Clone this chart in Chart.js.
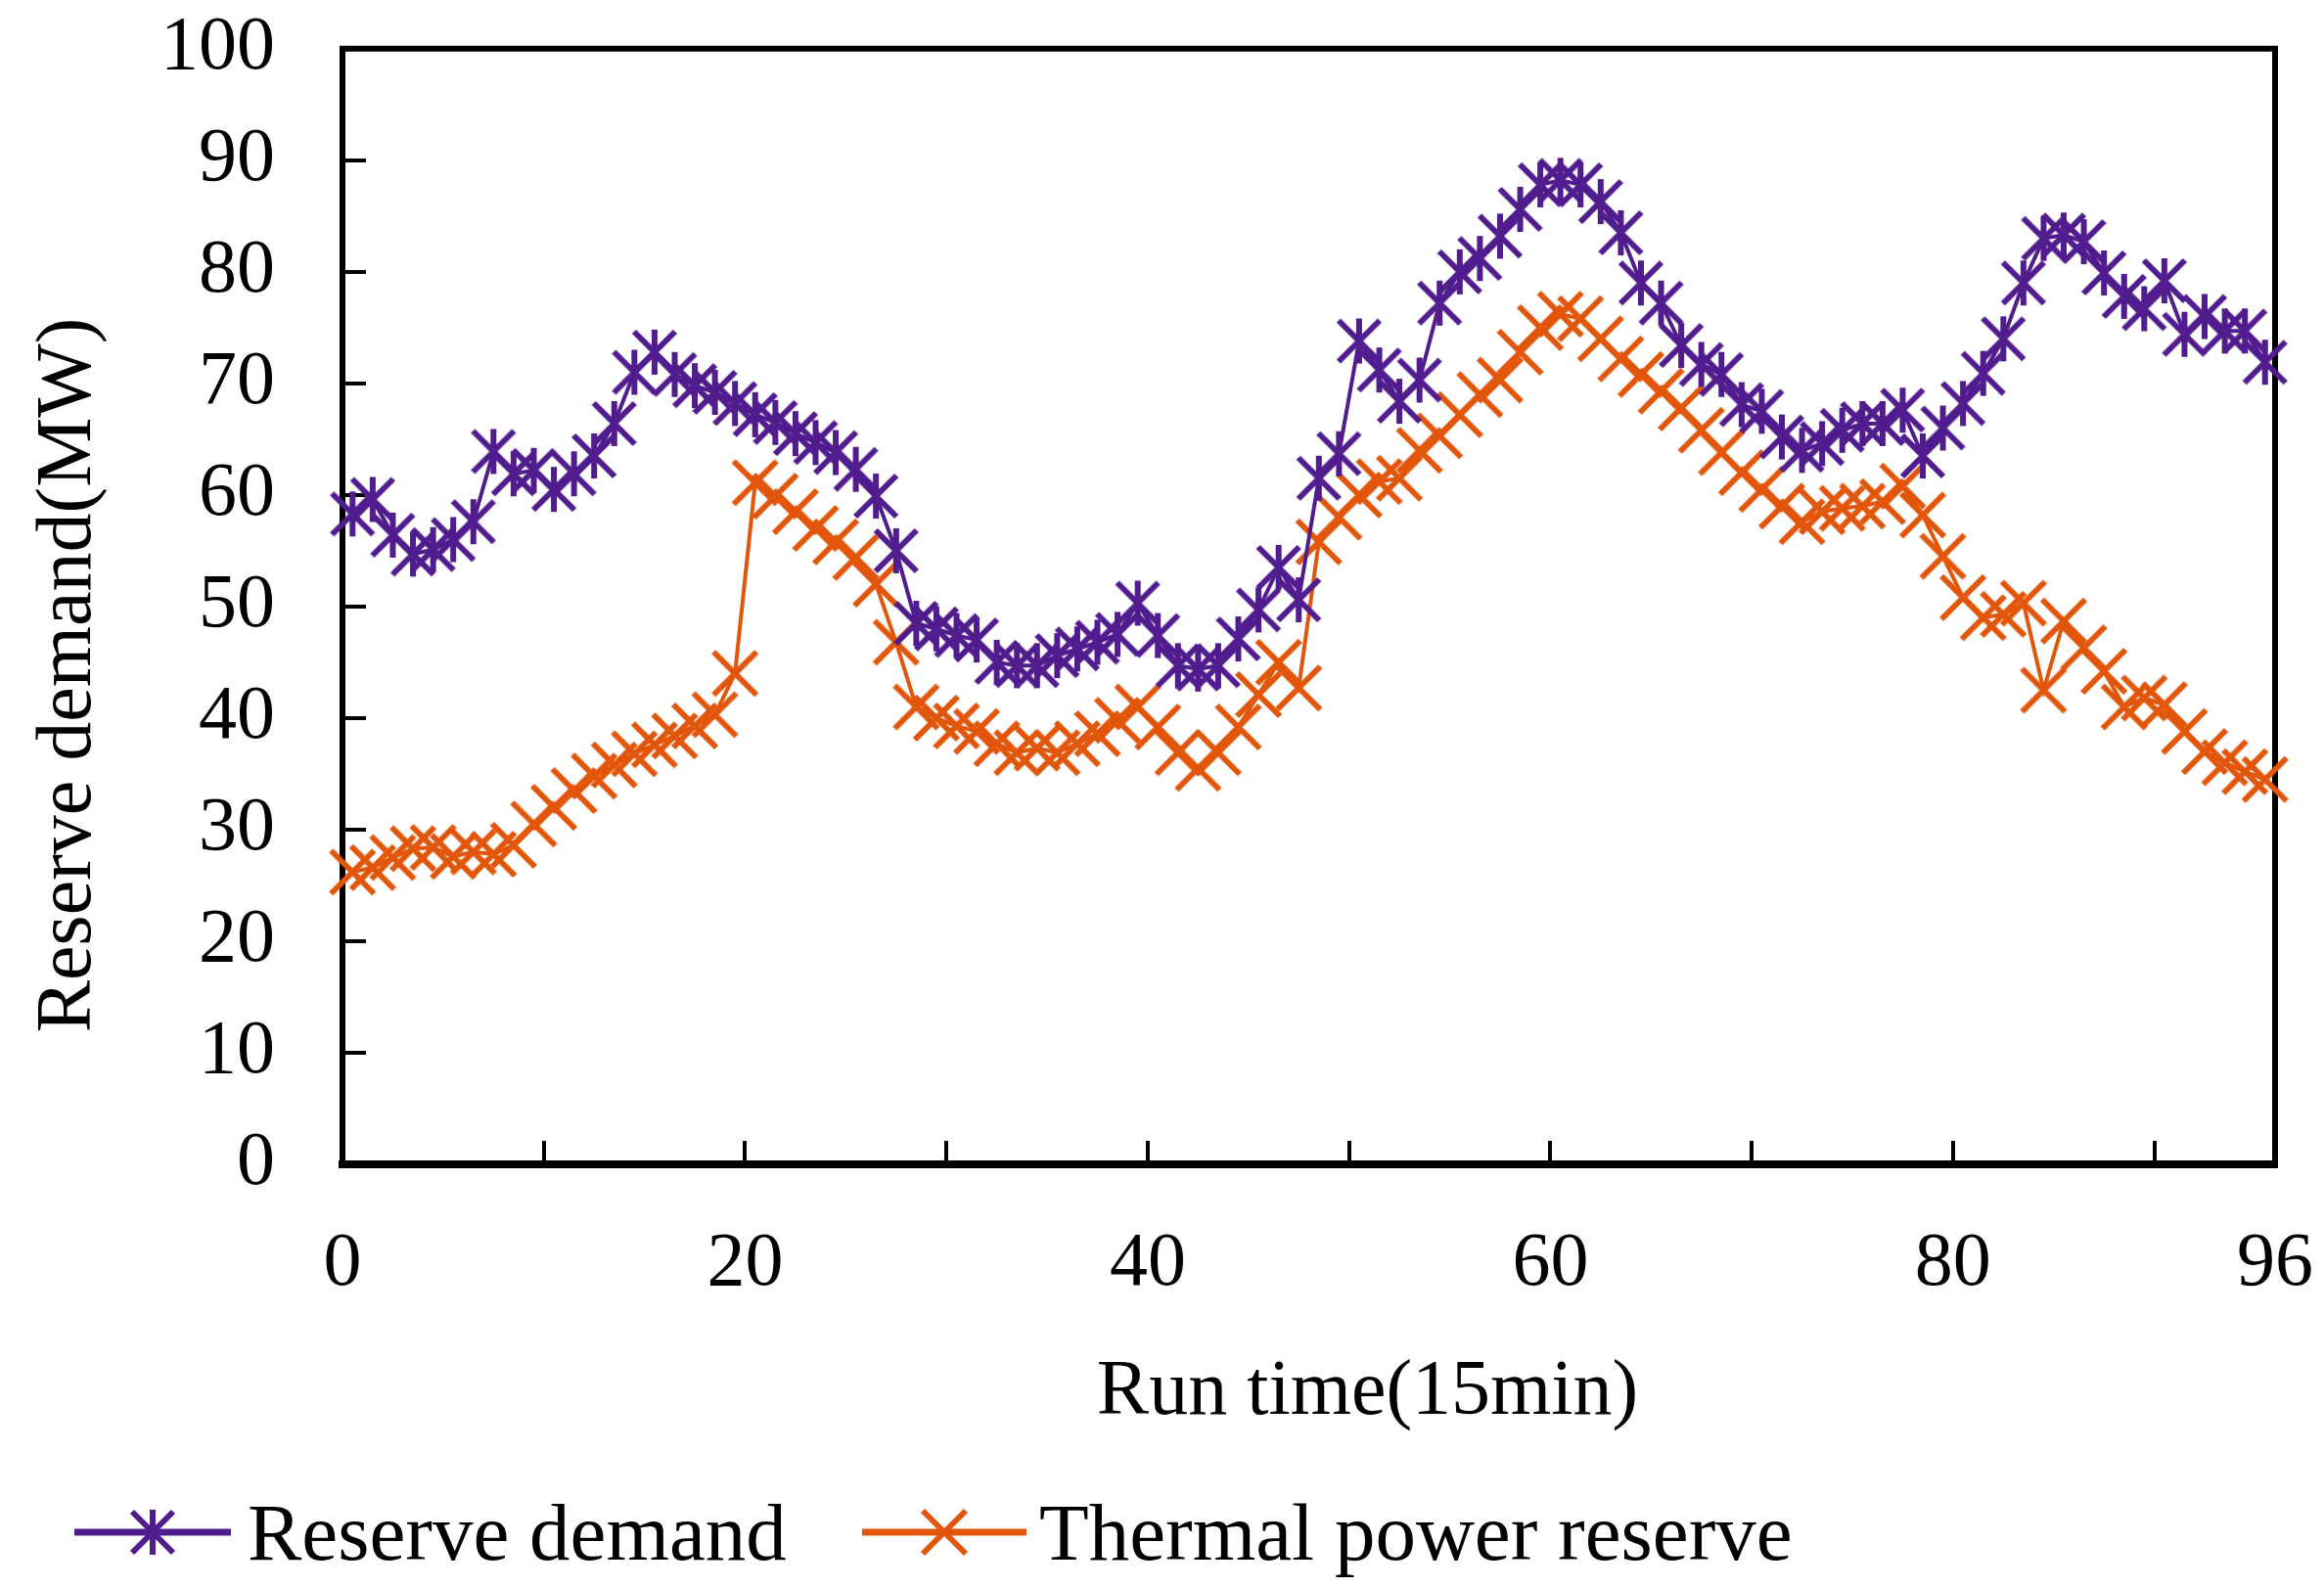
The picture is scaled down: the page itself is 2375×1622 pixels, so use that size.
<!DOCTYPE html>
<html>
<head>
<meta charset="utf-8">
<title>Reserve demand</title>
<script src="https://cdn.jsdelivr.net/npm/chart.js@4.4.0/dist/chart.umd.min.js"></script>
<style>
    html, body { margin: 0; padding: 0; background: #ffffff; }
    #wrap { width: 2375px; height: 1622px; }
</style>
</head>
<body>
<div id="wrap"><canvas id="reserveChart" width="2375" height="1622"></canvas></div>
<script>
// ======================================
// Data
// ======================================
// 96 periods of 15 min; each value is drawn at the middle of its period
const periods = [
    1, 2, 3, 4, 5, 6, 7, 8, 9, 10,
    11, 12, 13, 14, 15, 16, 17, 18, 19, 20,
    21, 22, 23, 24, 25, 26, 27, 28, 29, 30,
    31, 32, 33, 34, 35, 36, 37, 38, 39, 40,
    41, 42, 43, 44, 45, 46, 47, 48, 49, 50,
    51, 52, 53, 54, 55, 56, 57, 58, 59, 60,
    61, 62, 63, 64, 65, 66, 67, 68, 69, 70,
    71, 72, 73, 74, 75, 76, 77, 78, 79, 80,
    81, 82, 83, 84, 85, 86, 87, 88, 89, 90,
    91, 92, 93, 94, 95, 96
];

const reserveDemand = [
    58.3, 59.6, 56.4, 54.7, 55.1, 56, 57.6, 63.9, 61.9, 62.2,
    60.5, 61.9, 63.5, 66.4, 71, 72.8, 70.8, 69.8, 69.2, 68.2,
    67.2, 66.5, 65.5, 64.7, 63.8, 62.3, 59.9, 55, 48.5, 48,
    47.4, 47, 45, 44.7, 44.7, 45.6, 46.2, 46.8, 47.5, 50.3,
    47.4, 44.7, 44.4, 44.7, 47.1, 49.7, 53.5, 50.6, 61.5, 63.7,
    73.8, 71.2, 68.4, 70.3, 77.2, 80, 81.2, 83.2, 85.6, 87.8,
    88.2, 87.8, 86.3, 83.5, 79, 77.2, 73.4, 71.7, 70.8, 68.1,
    67.5, 65.2, 64, 64.6, 65.8, 66.4, 66.4, 67.6, 63.5, 66,
    68.2, 70.9, 74, 79, 83, 83.3, 82.7, 79.9, 77.8, 76.7,
    79.2, 74.4, 76, 74.7, 74.7, 71.9
];

const thermalReserve = [
    26.2, 26.6, 27.5, 28.3, 28.4, 27.6, 28, 27.8, 28.6, 30.5,
    32, 33.5, 34.8, 35.8, 36.8, 37.6, 38.4, 39.3, 40.3, 44,
    61.1, 59.9, 58.5, 57, 55.8, 54.4, 52, 46.8, 41, 40,
    39.3, 38.8, 37.7, 36.9, 37.3, 36.9, 37.7, 38.6, 39.8, 41,
    39.2, 36.9, 35.5, 36.9, 39.2, 42.1, 45, 42.7, 55.8, 58,
    60, 61.2, 61.5, 64, 65.3, 67.2, 69, 70.3, 72.8, 75,
    76.2, 75.8, 74, 72.2, 70.8, 69.3, 67.8, 65.8, 63.8, 62,
    60.5, 59, 57.6, 58.5, 58.8, 59, 59.4, 60.8, 58.2, 54.5,
    50.8, 49, 49.3, 50.3, 42.5, 48.7, 46.3, 44.2, 41, 41.8,
    41.2, 38.8, 37, 36, 35.2, 34.5
];

const seriesNames = ['Reserve demand', 'Thermal power reserve'];
const xTickValues = [0, 10, 20, 30, 40, 50, 60, 70, 80, 90, 96];
const xTickLabels = [0, 20, 40, 60, 80, 96];
const yTickValues = [0, 10, 20, 30, 40, 50, 60, 70, 80, 90, 100];

// ======================================
// Styles
// ======================================
const PURPLE = '#501c8e';
const ORANGE = '#e2560c';
const SERIF = '"Liberation Serif", "Times New Roman", Times, serif';

Chart.defaults.font.family = SERIF;
Chart.defaults.color = '#000000';

// Excel-like markers: star (vertical bar + X) and plain X
function makeMarker(kind, color, r, lw, lineHalf) {
    const halfW = Math.max(r, lineHalf || 0) + lw;
    const halfH = r + lw + 2;
    const c = document.createElement('canvas');
    c.width = Math.ceil(halfW * 2);
    c.height = Math.ceil(halfH * 2);
    const g = c.getContext('2d');
    g.translate(c.width / 2, c.height / 2);
    g.strokeStyle = color;
    g.lineCap = 'butt';
    if (lineHalf) {
        g.lineWidth = 7;
        g.beginPath();
        g.moveTo(-lineHalf, 0);
        g.lineTo(lineHalf, 0);
        g.stroke();
    }
    g.lineWidth = lw;
    g.beginPath();
    g.moveTo(-r, -r); g.lineTo(r, r);
    g.moveTo(-r, r); g.lineTo(r, -r);
    if (kind === 'star') {
        g.moveTo(0, -r - 2); g.lineTo(0, r + 2);
    }
    g.stroke();
    return c;
}

const starMarker = makeMarker('star', PURPLE, 21, 6);
const crossMarker = makeMarker('x', ORANGE, 22, 6);
const legendIcons = [
    makeMarker('star', PURPLE, 21, 6, 80),
    makeMarker('x', ORANGE, 22, 6, 84)
];

function toPoints(values) {
    return periods.map((p, i) => ({ x: p - 0.5, y: values[i] }));
}

// ======================================
// Plugins: frame with inward ticks, bottom legend
// ======================================
const framePlugin = {
    id: 'frameTicks',
    beforeDatasetsDraw(chart) {
        const { ctx, chartArea: a, scales: { x, y } } = chart;
        ctx.save();
        ctx.strokeStyle = '#000000';
        ctx.lineWidth = 6;
        ctx.beginPath();
        ctx.moveTo(a.left - 3, a.top);
        ctx.lineTo(a.right, a.top);
        ctx.lineTo(a.right, a.bottom + 4);
        ctx.stroke();

        ctx.lineWidth = 4;
        ctx.beginPath();
        xTickValues.slice(1, -1).forEach(v => {
            const px = Math.round(x.getPixelForValue(v));
            ctx.moveTo(px, a.bottom);
            ctx.lineTo(px, a.bottom - 24);
        });
        yTickValues.slice(1, -1).forEach(v => {
            const py = Math.round(y.getPixelForValue(v));
            ctx.moveTo(a.left, py);
            ctx.lineTo(a.left + 24, py);
        });
        ctx.stroke();
        ctx.restore();
    }
};

const LEGEND_Y = 1566;
const LEGEND_ITEMS = [
    { iconX: 156, textX: 253 },
    { iconX: 965, textX: 1062 }
];

const legendPlugin = {
    id: 'bottomLegend',
    afterDraw(chart) {
        const ctx = chart.ctx;
        ctx.save();
        ctx.font = '83px ' + SERIF;
        ctx.fillStyle = '#000000';
        ctx.textAlign = 'left';
        ctx.textBaseline = 'alphabetic';
        chart.data.datasets.forEach((ds, i) => {
            const item = LEGEND_ITEMS[i];
            const icon = legendIcons[i];
            ctx.drawImage(icon, item.iconX - icon.width / 2, LEGEND_Y - icon.height / 2);
            ctx.fillText(ds.label, item.textX, LEGEND_Y + 28);
        });
        ctx.restore();
    }
};

// invisible tick marks keep the labels away from the axis
const hiddenTicks = (len) => ({
    display: true,
    drawOnChartArea: false,
    drawTicks: true,
    tickLength: len,
    color: 'rgba(0,0,0,0)'
});

// ======================================
// Chart
// ======================================
function createReserveChart() {
    const ctx = document.getElementById('reserveChart');
    if (!ctx) return;

    new Chart(ctx, {
        type: 'line',
        data: {
            datasets: [
                {
                    label: seriesNames[0],
                    data: toPoints(reserveDemand),
                    borderColor: PURPLE,
                    backgroundColor: PURPLE,
                    borderWidth: 4,
                    tension: 0,
                    pointStyle: starMarker,
                    pointRadius: 21,
                    clip: false
                },
                {
                    label: seriesNames[1],
                    data: toPoints(thermalReserve),
                    borderColor: ORANGE,
                    backgroundColor: ORANGE,
                    borderWidth: 4,
                    tension: 0,
                    pointStyle: crossMarker,
                    pointRadius: 21,
                    clip: false
                }
            ]
        },
        options: {
            responsive: false,
            animation: false,
            devicePixelRatio: 1,
            layout: {
                padding: { left: 10, right: 50, top: 48, bottom: 150 }
            },
            plugins: {
                legend: { display: false },
                title: { display: false },
                tooltip: { enabled: false }
            },
            scales: {
                x: {
                    type: 'linear',
                    min: 0,
                    max: 96,
                    afterBuildTicks: scale => {
                        scale.ticks = xTickValues.map(v => ({ value: v }));
                    },
                    afterFit: scale => { scale.height = 282; },
                    grid: hiddenTicks(53),
                    border: { display: true, color: '#000000', width: 8 },
                    ticks: {
                        autoSkip: false,
                        maxRotation: 0,
                        padding: 3,
                        font: { size: 78 },
                        callback: v => (xTickLabels.includes(v) ? String(v) : '')
                    },
                    title: {
                        display: true,
                        text: '      Run time(15min)',
                        font: { size: 80 },
                        padding: { top: 0, bottom: 0 }
                    }
                },
                y: {
                    min: 0,
                    max: 100,
                    afterBuildTicks: scale => {
                        scale.ticks = yTickValues.map(v => ({ value: v }));
                    },
                    afterFit: scale => { scale.width = 340; },
                    grid: hiddenTicks(66),
                    border: { display: true, color: '#000000', width: 6 },
                    ticks: {
                        padding: 3,
                        font: { size: 78 }
                    },
                    title: {
                        display: true,
                        text: 'Reserve demand(MW)       ',
                        font: { size: 80 },
                        padding: { top: 13, bottom: 0 }
                    }
                }
            }
        },
        plugins: [framePlugin, legendPlugin]
    });
}

document.addEventListener('DOMContentLoaded', createReserveChart);
</script>
</body>
</html>
